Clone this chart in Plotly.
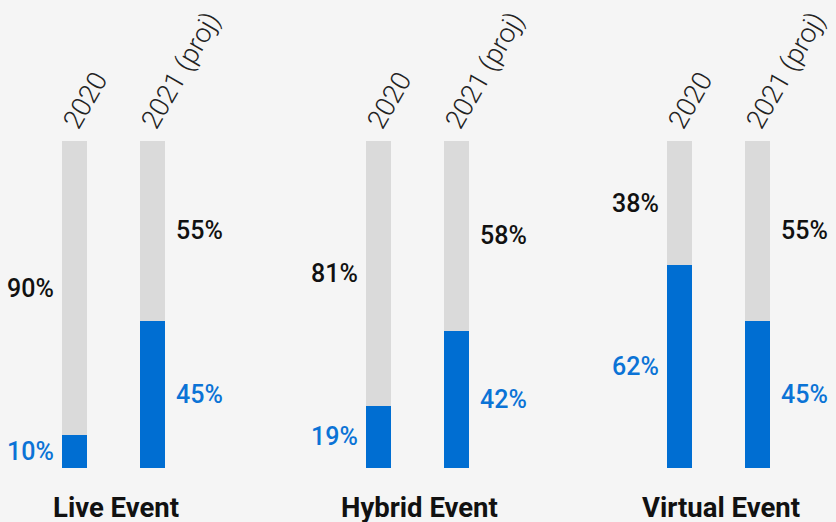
import plotly.graph_objects as go
from plotly.subplots import make_subplots

groups = ["Live Event", "Hybrid Event", "Virtual Event"]
years = ["2020", "2021 (proj)"]
blue_vals = [[10, 45], [19, 42], [62, 45]]
gray_vals = [[90, 55], [81, 58], [38, 55]]

BG = "#F5F5F5"
BLUE = "#006ED2"
GRAY = "#DADADA"
LBLUE = "#0B73D6"
DARK = "#111111"

W, H = 836, 522
domains = [(35.5 / W, 191.5 / W), (339.5 / W, 495.5 / W), (640.5 / W, 796.5 / W)]

fig = make_subplots(rows=1, cols=3, shared_yaxes=False)

for i, g in enumerate(groups):
    c = i + 1
    fig.add_trace(go.Bar(x=years, y=blue_vals[i], marker_color=BLUE, width=0.32,
                         marker_line_width=0, hoverinfo="skip", showlegend=False), row=1, col=c)
    fig.add_trace(go.Bar(x=years, y=gray_vals[i], marker_color=GRAY, width=0.32,
                         marker_line_width=0, hoverinfo="skip", showlegend=False), row=1, col=c)
    xa = "xaxis" if c == 1 else f"xaxis{c}"
    ya = "yaxis" if c == 1 else f"yaxis{c}"
    fig.layout[xa].update(domain=list(domains[i]), side="top", tickangle=-60,
                          range=[-0.5, 1.5], showgrid=False, zeroline=False, showline=False,
                          ticks="", ticklabelstandoff=-3, ticklabelshift=-8,
                          tickfont=dict(family="Roboto", size=27, color="#222222", weight=300))
    fig.layout[ya].update(range=[0, 100], visible=False)
    xref = "x" if c == 1 else f"x{c}"
    yref = "y" if c == 1 else f"y{c}"
    for j, yr in enumerate(years):
        b = blue_vals[i][j]
        gv = gray_vals[i][j]
        if j == 0:
            xanchor, xshift = "right", -19
        else:
            xanchor, xshift = "left", 21
        fig.add_annotation(x=j, y=b / 2, xref=xref, yref=yref, text=f"{b}%",
                           showarrow=False, xanchor=xanchor, xshift=xshift, yanchor="middle",
                           font=dict(family="Roboto", size=25, color=LBLUE, weight=500))
        fig.add_annotation(x=j, y=b + gv / 2, xref=xref, yref=yref, text=f"{gv}%",
                           showarrow=False, xanchor=xanchor, xshift=xshift, yanchor="middle",
                           font=dict(family="Roboto", size=25, color=DARK, weight=500))
    fig.add_annotation(x=(domains[i][0] + domains[i][1]) / 2, y=0, xref="paper", yref="paper",
                       text=f"<b>{g}</b>", showarrow=False, xanchor="center", yanchor="middle",
                       yshift=-39, xshift=2,
                       font=dict(family="Roboto", size=27.5, color=DARK))

fig.update_layout(
    barmode="stack",
    width=W, height=H,
    margin=dict(l=0, r=0, t=141, b=54, autoexpand=False),
    paper_bgcolor=BG, plot_bgcolor=BG,
    showlegend=False,
)

fig.write_html("out.html", config={"displayModeBar": False})
